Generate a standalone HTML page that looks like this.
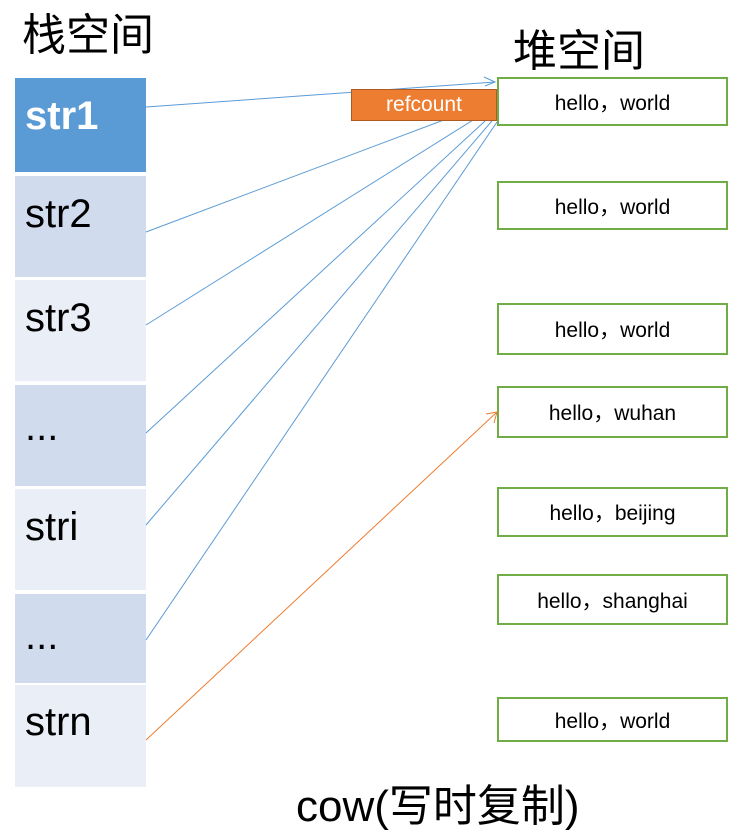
<!DOCTYPE html>
<html><head><meta charset="utf-8"><style>
body{margin:0;width:741px;height:801px;overflow:hidden;background:#fff;position:relative;font-family:"Liberation Sans","Noto Sans CJK SC",sans-serif}
.c{position:absolute;left:15px;width:131px;font-size:40px;color:#000;box-sizing:border-box;padding-left:10px}
.h{position:absolute;left:497px;width:231px;border:2px solid #70ad47;box-sizing:border-box;background:#fff;text-align:center;font-size:21px;display:flex;align-items:center;justify-content:center}
.t{position:absolute;font-size:44px;line-height:50px;font-family:"Noto Sans CJK SC",sans-serif}
</style></head><body>
<div class="t" style="left:22px;top:6px">栈空间</div>
<div class="t" style="left:513px;top:22px">堆空间</div>
<div class="c" style="top:78px;height:94px;background:#5b9bd5;color:#fff;font-weight:bold;line-height:76px">str1</div>
<div class="c" style="top:176px;height:101px;background:#d0dcee;line-height:76px">str2</div>
<div class="c" style="top:280px;height:101px;background:#e9eef7;line-height:76px">str3</div>
<div class="c" style="top:385px;height:101px;background:#d0dcee;line-height:84px">...</div>
<div class="c" style="top:489px;height:101px;background:#e9eef7;line-height:76px">stri</div>
<div class="c" style="top:594px;height:89px;background:#d0dcee;line-height:84px">...</div>
<div class="c" style="top:685px;height:102px;background:#e9eef7;line-height:74px">strn</div>
<div class="h" style="top:77px;height:49px">hello，world</div>
<div class="h" style="top:181px;height:49px">hello，world</div>
<div class="h" style="top:303px;height:52px">hello，world</div>
<div class="h" style="top:386px;height:52px">hello，wuhan</div>
<div class="h" style="top:487px;height:50px">hello，beijing</div>
<div class="h" style="top:574px;height:51px">hello，shanghai</div>
<div class="h" style="top:697px;height:45px">hello，world</div>
<svg width="741" height="801" style="position:absolute;left:0;top:0">
<g stroke="#5b9bd5" stroke-width="1" fill="none">
<line x1="146" y1="107" x2="495" y2="82"/>
<polyline points="484,77 495,82 485,86"/>
<line x1="146" y1="232" x2="497" y2="100"/>
<line x1="146" y1="325" x2="497" y2="105"/>
<line x1="146" y1="433" x2="497" y2="110"/>
<line x1="146" y1="525" x2="497" y2="115"/>
<line x1="146" y1="640" x2="497" y2="122"/>
</g>
<g stroke="#ed7d31" stroke-width="1" fill="none">
<line x1="146" y1="740" x2="497" y2="412"/>
<polyline points="486,414 497,412 494,423"/>
</g>
</svg>
<div style="position:absolute;left:351px;top:89px;width:146px;height:32px;background:#ed7d31;border:1px solid #ae5a21;box-sizing:border-box;color:#fff;font-size:21px;text-align:center;line-height:30px">refcount</div>
<div style="position:absolute;left:296px;top:782px;font-size:44px;line-height:50px;font-family:'Liberation Sans','Noto Sans CJK SC',sans-serif">cow(写时复制)</div>
</body></html>
